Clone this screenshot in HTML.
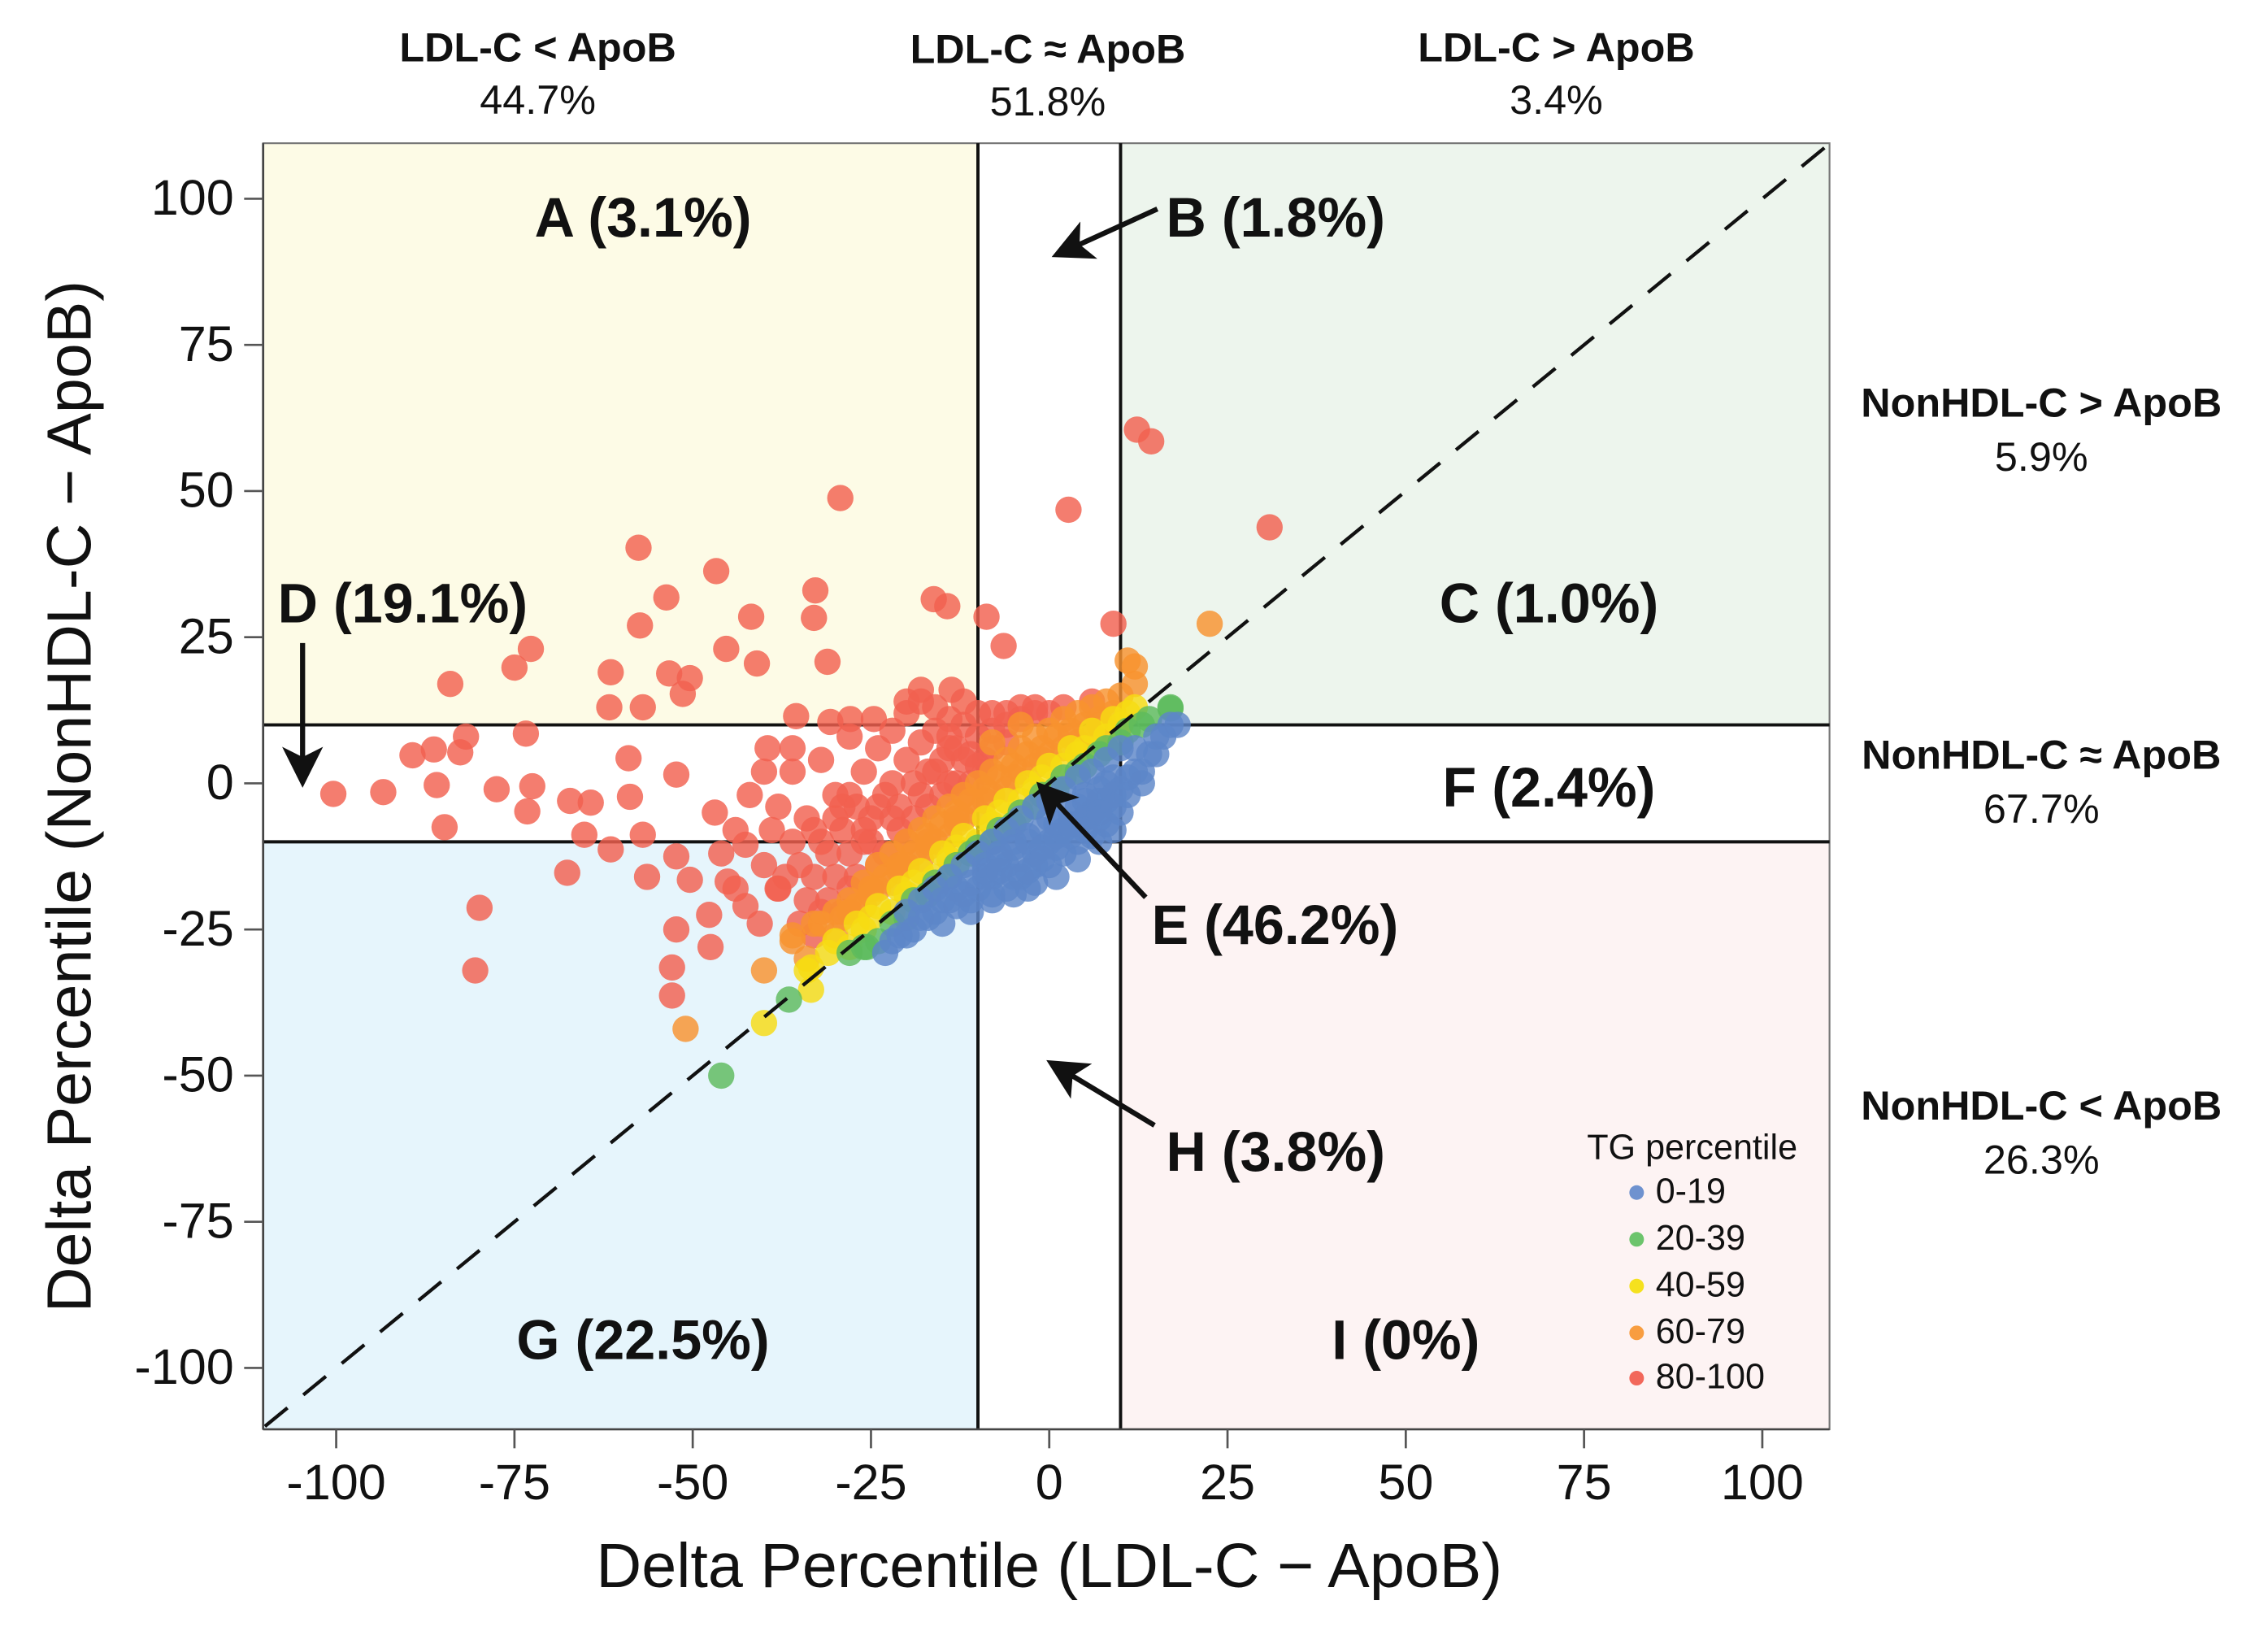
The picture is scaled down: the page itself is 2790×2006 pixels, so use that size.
<!DOCTYPE html>
<html><head><meta charset="utf-8"><style>
html,body{margin:0;padding:0;background:#fff;}
svg{display:block;}
text{font-family:"Liberation Sans",sans-serif;fill:#111;}
.b{font-weight:bold;}
</style></head><body>
<svg id="chart" width="2790" height="2006" viewBox="0 0 1552 1116" xmlns="http://www.w3.org/2000/svg">
<defs><marker id="ah" markerWidth="8" markerHeight="8" refX="6" refY="4" orient="auto"><path d="M0,0 L8,4 L0,8 L2,4 Z" fill="#111"/></marker></defs>
<g id="regions"></g>
<g id="grid"></g>
<g id="dots"></g>
<g id="axes"></g>

<text x="718" y="1086" font-size="43" text-anchor="middle">Delta Percentile (LDL-C − ApoB)</text>
<text transform="translate(62,545) rotate(-90)" font-size="43" text-anchor="middle">Delta Percentile (NonHDL-C − ApoB)</text>

<g font-size="28" text-anchor="middle">
<text class="b" x="368" y="42">LDL-C &lt; ApoB</text><text x="368" y="78">44.7%</text>
<text class="b" x="717" y="43">LDL-C ≈ ApoB</text><text x="717" y="79">51.8%</text>
<text class="b" x="1065" y="42">LDL-C &gt; ApoB</text><text x="1065" y="78">3.4%</text>
</g>
<g font-size="28" text-anchor="middle">
<text class="b" x="1397" y="285">NonHDL-C &gt; ApoB</text><text x="1397" y="322">5.9%</text>
<text class="b" x="1397" y="526">NonHDL-C ≈ ApoB</text><text x="1397" y="563">67.7%</text>
<text class="b" x="1397" y="766">NonHDL-C &lt; ApoB</text><text x="1397" y="803">26.3%</text>
</g>
<g font-size="38" class="b">
<text class="b" x="440" y="162" text-anchor="middle">A (3.1%)</text>
<text class="b" x="798" y="162">B (1.8%)</text>
<text class="b" x="1060" y="426" text-anchor="middle">C (1.0%)</text>
<text class="b" x="190" y="426">D (19.1%)</text>
<text class="b" x="1060" y="552" text-anchor="middle">F (2.4%)</text>
<text class="b" x="788" y="646">E (46.2%)</text>
<text class="b" x="798" y="801">H (3.8%)</text>
<text class="b" x="440" y="930" text-anchor="middle">G (22.5%)</text>
<text class="b" x="962" y="930" text-anchor="middle">I (0%)</text>
</g>
<g stroke="#111" stroke-width="3.5" fill="none">
<line x1="792" y1="143" x2="726" y2="173" marker-end="url(#ah)"/>
<line x1="207" y1="440" x2="207" y2="532" marker-end="url(#ah)"/>
<line x1="784" y1="614" x2="714" y2="540" marker-end="url(#ah)"/>
<line x1="790" y1="770" x2="722" y2="729" marker-end="url(#ah)"/>
</g>
<g font-size="24">
<text x="1158" y="793" text-anchor="middle">TG percentile</text>
<g><circle cx="1120" cy="816" r="5" fill="#6f92cf"/><text x="1133" y="823">0-19</text></g>
<g><circle cx="1120" cy="848" r="5" fill="#6cc46c"/><text x="1133" y="855">20-39</text></g>
<g><circle cx="1120" cy="880" r="5" fill="#f5e11e"/><text x="1133" y="887">40-59</text></g>
<g><circle cx="1120" cy="912" r="5" fill="#f89d40"/><text x="1133" y="919">60-79</text></g>
<g><circle cx="1120" cy="943" r="5" fill="#f2675a"/><text x="1133" y="950">80-100</text></g>
</g>
</svg>
<script>
const xTicks=[-100,-75,-50,-25,0,25,50,75,100];
const yTicks=[100,75,50,25,0,-25,-50,-75,-100];
const blueX=[-23,-20,-18,-16,-14,-12,-10,-8,-6,-4,-2,0,2,4,6,8,10,12,14,16,18,-10,-8,-6,-4,-2,0,2,4,6,8,10,12,-6,-4,-2,0,2,4,6,8,10,-12,-14,-16,-18,-20,0,4,8,-8,-3,15,17,-11,-9,
-7,-5,-3,-1,1,3,5,7,9,-9,-7,-5,-3,-1,1,3,5,7,9,11,-13,-11,-9,-7,-5,-3,-1,1,3,5,7,9,11,13,-15,-13,-11,-8,-5,-2,1,4,7,-17,-15,-19,-21,-22,5,7,9,13,15];
const blueY=[-29,-26,-23,-22,-20,-19,-18,-16,-14,-13,-12,-10,-8,-7,-5,-3,-1,2,5,8,10,-12,-10,-8,-6,-4,-3,-1,1,2,4,6,6,-18,-16,-14,-14,-12,-10,-9,-7,-5,-14,-16,-18,-20,-22,-6,-4,0,-20,-18,8,10,-22,-16,
-12,-10,-9,-8,-7,-5,-3,-1,1,-14,-13,-11,-10,-11,-9,-7,-6,-3,-2,1,-18,-17,-15,-15,-16,-15,-13,-11,-9,-8,-6,-4,-2,2,-20,-21,-20,-19,-19,-17,-16,-13,-10,-23,-24,-25,-26,-27,-2,-5,-8,0,5];
const greenX=[-26,-22,-19,-16,-13,-10,-7,-4,-1,2,5,8,11,14,17,-24,-20,-46,-36.5,-25.6,17,-17,-14,-11,-8,-5,-2,1,4,7,10,13,-28];
const greenY=[-28,-24,-20,-17,-14,-11,-8,-5,-2,1,3,6,9,11,13,-27,-23,-50,-37,-28,12.8,-19,-16,-12,-10,-7,-4,-1,2,5,7,10,-29];
const yellowX=[-34,-30,-27,-24,-21,-18,-15,-12,-9,-6,-3,0,3,6,9,12,-28,-22,-16,-10,-4,2,8,-40,-33.4,-33.4,-25,-19,-13,-7,-1,5,11,-31,-26,-20,-14,-8,-2,4,10];
const yellowY=[-32,-27,-24,-21,-18,-15,-12,-9,-6,-3,0,3,6,9,11,13,-28,-22,-16,-10,-3,3,8,-41,-31.5,-35.3,-23,-17,-11,-5,1,6,12,-29,-25,-19,-13,-7,-1,5,10];
const orangeX=[-36,-33,-30,-28,-26,-24,-22,-20,-18,-16,-14,-12,-10,-8,-6,-4,-2,0,2,4,6,8,10,-30,-26,-22,-18,-14,-10,-6,-2,2,6,10,-8,-4,-34,12,12,22.5,-51,-40,-36,11,
-32,-29,-27,-25,-23,-21,-19,-17,-15,-13,-11,-9,-7,-5,-3,-1,1,3,5,7,9,-28,-24,-20,-16,-12,-8,-4,0,4,8,-25,-21,-17,-13,-9,-5,-1,3,7];
const orangeY=[-27,-24,-22,-20,-17,-14,-12,-10,-8,-6,-4,-2,0,2,4,6,8,9,11,12,13,14,15,-26,-21,-17,-13,-9,-5,-1,3,6,8,10,7,10,-30,20,17,27.3,-42,-32,-26,21,
-24,-23,-21,-18,-16,-14,-12,-9,-7,-5,-3,-1,1,3,5,6,8,9,10,11,12,-22,-18,-14,-10,-6,-2,2,5,7,9,-19,-15,-11,-7,-3,1,4,8,10];
const redX=[-29.3,2.7,12.3,14.3,30.9,-57.6,-46.7,-53.7,-32.8,-33,-57.4,-41.8,-45.3,-41,-31.1,-16.2,-14.3,-8.8,-6.4,9,-72.7,-75,-84,-61.5,-53.3,-50.4,-51.4,-61.7,-57,-73.4,-86.3,-89.3,-82.6,-81.8,-100.4,-93.4,-85.9,-77.5,-72.5,-73.2,-84.8,-67.2,-64.3,-58.8,-59,-52.3,-65.2,-67.6,-61.5,-57,-52.3,-56.4,-79.9,-80.5,-52.3,-52.9,-52.9,-47.5,-47.7,-46.9,-50.4,-45.1,-42.6,-40.6,-38.1,-35.5,-39.5,-36,-30.7,-27.9,-24.6,-42.6,-38.9,-18,-13.7,
-38,-35,-32,-30,-28,-26,-24,-22,-20,-18,-16,-14,-12,-10,-8,-6,-4,-2,-34,-30,-28,-26,-24,-22,-20,-18,-16,-14,-12,-10,-8,-6,-32,-28,-24,-20,-18,-16,-14,-12,-22,-26,-30,-34,-36,-40,-38,-36,-32,-28,-44,-42,-40,-46,-44,-20,-12,-8,-4,0,
-33,-31,-29,-27,-25,-23,-21,-19,-17,-15,-13,-11,-9,-35,-31,-27,-23,-19,-15,-11,-33,-29,-25,-21,-17,-13,-9,-37,-33,-29,-25,-21,-17,-13,-2,2,6,-6,-10,-14];
const redY=[48.8,46.8,60.5,58.5,43.8,40.3,36.3,31.8,33,28.3,27,28.5,23,20.5,20.8,31.5,30.3,28.5,23.5,27.3,23,19.8,17,19,18.8,18,15.3,13,13,8.5,5.8,4.8,5.3,8,-1.8,-1.5,-0.3,-1,-0.5,-4.8,-7.5,-3,-3.3,-2.3,4.3,1.5,-8.8,-15.3,-11.3,-8.8,-12.5,-16,-21.3,-32,-25,-31.5,-36.3,-28,-22.5,-5,-16.5,-16.8,-21,-24,-18,11.5,6,6,10.5,11,11,-10.5,-8,16,16,
-18,-14,-10,-6,-2,2,6,9,12,14,13,11,10,8,9,10,11,12,-20,-16,-12,-8,-4,0,4,7,9,6,4,3,6,7,-22,-18,-14,-10,-2,2,0,-2,-6,-10,-2,-6,-10,-14,-4,2,4,8,-8,-2,2,-12,-18,14,14,12,13,12,
-16,-12,-8,-4,-6,-2,-4,0,2,4,6,5,4,-24,-20,-16,-12,-6,-2,0,-8,-4,-10,-8,-4,0,2,-16,-26,-22,-18,-14,-10,-6,13,13,14,12,12,8];

const NS='http://www.w3.org/2000/svg';
const L=180,R=1252,T=98,B=978;
function sx(v){return 718+v*4.88;}
function sy(v){return 536-v*4.0;}
function mk(tag,attrs,parent){const e=document.createElementNS(NS,tag);for(const k in attrs)e.setAttribute(k,attrs[k]);parent.appendChild(e);return e;}

const reg=document.getElementById('regions');
const rA=mk('rect',{x:L,y:T,width:sx(-10)-L,height:sy(10)-T,fill:'#fdfbe6'},reg);


const rC=mk('rect',{x:sx(10),y:T,width:R-sx(10),height:sy(10)-T,fill:'#edf5ed'},reg);


const rG=mk('rect',{x:L,y:sy(-10),width:sx(-10)-L,height:B-sy(-10),fill:'#e6f5fc'},reg);


const rI=mk('rect',{x:sx(10),y:sy(-10),width:R-sx(10),height:B-sy(-10),fill:'#fdf3f3'},reg);


const border=mk('rect',{x:L,y:T,width:R-L,height:B-T,fill:'none',stroke:'#777','stroke-width':1.2},reg);



const gr=document.getElementById('grid');
[-10,10].forEach(v=>{
  const l=mk('line',{x1:sx(v),y1:T,x2:sx(v),y2:B,stroke:'#111','stroke-width':2.2},gr);
  
  
  const h=mk('line',{x1:L,y1:sy(v),x2:R,y2:sy(v),stroke:'#111','stroke-width':2.2},gr);
  
  
});

const dg=document.getElementById('dots');
function series(xs,ys,col,name){
  for(let i=0;i<xs.length;i++){
    const c=mk('circle',{cx:sx(xs[i]),cy:sy(ys[i]),r:9,fill:col,'fill-opacity':0.82},dg);
    
    
  }
}
series(redX,redY,'#f2604f','point-tg-80-100');
series(orangeX,orangeY,'#f8922e','point-tg-60-79');
series(yellowX,yellowY,'#f7dc12','point-tg-40-59');
series(greenX,greenY,'#5dbb5d','point-tg-20-39');
series(blueX,blueY,'#5d86c8','point-tg-0-19');

const dl=mk('line',{x1:sx(-110),y1:sy(-110),x2:sx(110),y2:sy(110),stroke:'#111','stroke-width':2.4,'stroke-dasharray':'20 14'},dg);



const ax=document.getElementById('axes');
const la=mk('line',{x1:L,y1:T,x2:L,y2:B,stroke:'#444','stroke-width':1.5},ax);


const ba=mk('line',{x1:L,y1:B,x2:R,y2:B,stroke:'#444','stroke-width':1.5},ax);


xTicks.forEach(v=>{
  const t=mk('line',{x1:sx(v),y1:B,x2:sx(v),y2:B+13,stroke:'#555','stroke-width':1.5},ax);
  
  
  const tx=mk('text',{x:sx(v),y:1026,'font-size':34,'text-anchor':'middle'},ax);
  tx.textContent=String(v);
  
  
});
yTicks.forEach(v=>{
  const t=mk('line',{x1:L-13,y1:sy(v),x2:L,y2:sy(v),stroke:'#555','stroke-width':1.5},ax);
  
  
  const tx=mk('text',{x:160,y:sy(v)+11,'font-size':34,'text-anchor':'end'},ax);
  tx.textContent=String(v);
  
  
});
</script>
</body></html>
